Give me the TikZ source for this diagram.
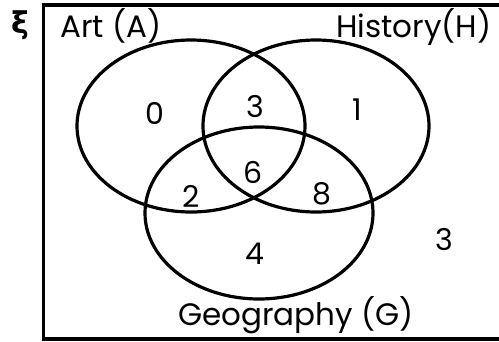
\documentclass[tikz,border=0pt]{standalone}
\usepackage{fontspec}
\setmainfont{Poppins}
\newfontfamily\greekfont{DejaVu Sans}

\begin{document}
\begin{tikzpicture}[x=1pt,y=-1pt]
    \tikzset{
        setline/.style={line width=3.2pt},
        count/.style={font=\fontsize{30}{32}\selectfont, inner sep=0pt},
        setname/.style={font=\fontsize{31}{33}\selectfont, inner sep=0pt, anchor=base west},
    }
    \useasboundingbox (0,0) rectangle (499,341);
    % Universal set
    \draw[setline] (43.5,5) rectangle (510,339);
    \node[font=\greekfont\bfseries\fontsize{30}{32}\selectfont, inner sep=0pt] (xi) at (20,25) {ξ};
    % Three sets
    \draw[setline] (191,126) ellipse (114pt and 86pt);
    \draw[setline] (316,126) ellipse (113pt and 86pt);
    \draw[setline] (259,213) ellipse (114pt and 86pt);
    \node[setname] (art) at (60,37) {Art (A)};
    \node[setname] (hist) at (336,37) {History(H)};
    \node[setname] (geo) at (178,325) {Geography (G)};
    % Region counts
    \node[count] (onlyA) at (155,113) {0};
    \node[count] (AH) at (255,107) {3};
    \node[count] (onlyH) at (357,110) {1};
    \node[count] (AG) at (191,196) {2};
    \node[count] (AHG) at (253,172) {6};
    \node[count] (HG) at (322,194) {8};
    \node[count] (onlyG) at (255,254) {4};
    \node[count] (none) at (444,240) {3};
\end{tikzpicture}
\end{document}
